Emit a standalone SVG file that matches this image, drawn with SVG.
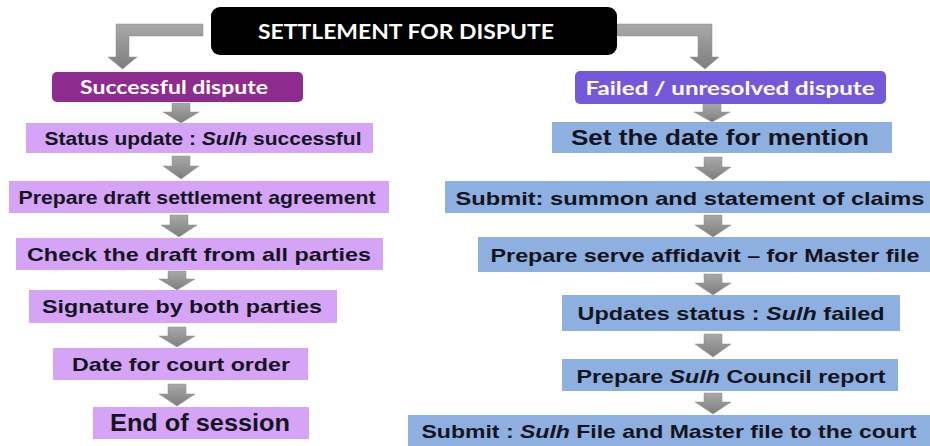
<svg xmlns="http://www.w3.org/2000/svg" width="930" height="446" viewBox="0 0 930 446">
<defs>
<linearGradient id="gv" x1="0" y1="0" x2="0" y2="1">
<stop offset="0" stop-color="#a8a8a8"/>
<stop offset="1" stop-color="#7e7e7e"/>
</linearGradient>
</defs>
<style>
.arr{fill:url(#gv);stroke:#8e8e8e;stroke-width:0.5}
.lp{fill:#D5A4F7}
.bl{fill:#8DB0E0}
.t{font-family:"Liberation Sans",Arial,sans-serif;font-weight:bold;fill:#14141f;text-anchor:middle}
.h{font-family:Lato,"Open Sans",sans-serif;font-weight:bold;fill:#ffffff;text-anchor:middle}
</style>
<rect width="930" height="446" fill="#ffffff"/>
<g id="connectors">
<path class="arr" d="M203,24 H116 V57 H108 L122.5,69 L137,57 H129 V36 H203 Z"/>
<path class="arr" d="M617,24 H712 V57 H719 L705,69 L690,57 H698 V36 H617 Z"/>
<path class="arr" d="M172,103 H190 V112 H199 L181,123 L163,112 H172 Z"/>
<path class="arr" d="M172,156 H190 V166 H199 L181,179 L163,166 H172 Z"/>
<path class="arr" d="M170,215 H188 V225 H197 L179,237 L161,225 H170 Z"/>
<path class="arr" d="M168,271 H186 V279 H195 L177,290 L159,279 H168 Z"/>
<path class="arr" d="M168,327 H186 V336 H195 L177,347 L159,336 H168 Z"/>
<path class="arr" d="M168,384 H186 V394 H195 L177,406 L159,394 H168 Z"/>
<path class="arr" d="M703,104 H721 V112 H730 L712,122 L694,112 H703 Z"/>
<path class="arr" d="M704,157 H722 V167 H731 L713,180 L695,167 H704 Z"/>
<path class="arr" d="M704,215 H722 V225 H731 L713,237 L695,225 H704 Z"/>
<path class="arr" d="M704,274 H722 V283 H731 L713,295 L695,283 H704 Z"/>
<path class="arr" d="M704,334 H722 V344 H731 L713,357 L695,344 H704 Z"/>
<path class="arr" d="M704,393 H722 V402 H731 L713,414 L695,402 H704 Z"/>
</g>
<g id="title">
<rect x="211" y="7" width="406" height="48" rx="9" fill="#000000"/>
<text class="h" x="406" y="39" font-size="20" textLength="296" lengthAdjust="spacingAndGlyphs">SETTLEMENT FOR DISPUTE</text>
</g>
<g id="successful">
<rect x="52" y="72" width="251" height="30" rx="5" fill="#8E2B8E"/>
<text class="h" x="174" y="94" font-size="19" textLength="188" lengthAdjust="spacingAndGlyphs">Successful dispute</text>
</g>
<g id="status-success">
<rect class="lp" x="26" y="123" width="347" height="30"/>
<text class="t" x="203" y="145" font-size="19" textLength="317" lengthAdjust="spacingAndGlyphs">Status update : <tspan font-style="italic">Sulh</tspan> successful</text>
</g>
<g id="draft">
<rect class="lp" x="9" y="181" width="380" height="32"/>
<text class="t" x="197" y="204" font-size="19" textLength="357" lengthAdjust="spacingAndGlyphs">Prepare draft settlement agreement</text>
</g>
<g id="check">
<rect class="lp" x="16" y="238" width="367" height="32"/>
<text class="t" x="199" y="261" font-size="19" textLength="344" lengthAdjust="spacingAndGlyphs">Check the draft from all parties</text>
</g>
<g id="signature">
<rect class="lp" x="29" y="290" width="308" height="33"/>
<text class="t" x="182" y="313" font-size="19" textLength="280" lengthAdjust="spacingAndGlyphs">Signature by both parties</text>
</g>
<g id="court-date">
<rect class="lp" x="53" y="348" width="255" height="32"/>
<text class="t" x="181" y="371" font-size="19" textLength="218" lengthAdjust="spacingAndGlyphs">Date for court order</text>
</g>
<g id="end">
<rect class="lp" x="93" y="407" width="216" height="32"/>
<text class="t" x="200" y="431" font-size="23" textLength="180" lengthAdjust="spacingAndGlyphs">End of session</text>
</g>
<g id="failed">
<rect x="575" y="71" width="311" height="33" rx="5" fill="#7558DA"/>
<text class="h" x="730" y="95" font-size="19" textLength="289" lengthAdjust="spacingAndGlyphs">Failed / unresolved dispute</text>
</g>
<g id="mention">
<rect class="bl" x="552" y="122" width="340" height="31"/>
<text class="t" x="720" y="145" font-size="22" textLength="298" lengthAdjust="spacingAndGlyphs">Set the date for mention</text>
</g>
<g id="summon">
<rect class="bl" x="445" y="181" width="485" height="32"/>
<text class="t" x="690" y="205" font-size="19" textLength="469" lengthAdjust="spacingAndGlyphs">Submit: summon and statement of claims</text>
</g>
<g id="affidavit">
<rect class="bl" x="478" y="237" width="452" height="35"/>
<text class="t" x="705" y="262" font-size="19" textLength="429" lengthAdjust="spacingAndGlyphs">Prepare serve affidavit – for Master file</text>
</g>
<g id="status-failed">
<rect class="bl" x="562" y="295" width="338" height="36"/>
<text class="t" x="731" y="320" font-size="19" textLength="307" lengthAdjust="spacingAndGlyphs">Updates status : <tspan font-style="italic">Sulh</tspan> failed</text>
</g>
<g id="council">
<rect class="bl" x="562" y="359" width="336" height="32"/>
<text class="t" x="731" y="383" font-size="19" textLength="309" lengthAdjust="spacingAndGlyphs">Prepare <tspan font-style="italic">Sulh</tspan> Council report</text>
</g>
<g id="submit-file">
<rect class="bl" x="408" y="415" width="522" height="31"/>
<text class="t" x="669" y="438" font-size="19" textLength="495" lengthAdjust="spacingAndGlyphs">Submit : <tspan font-style="italic">Sulh</tspan> File and Master file to the court</text>
</g>
</svg>
